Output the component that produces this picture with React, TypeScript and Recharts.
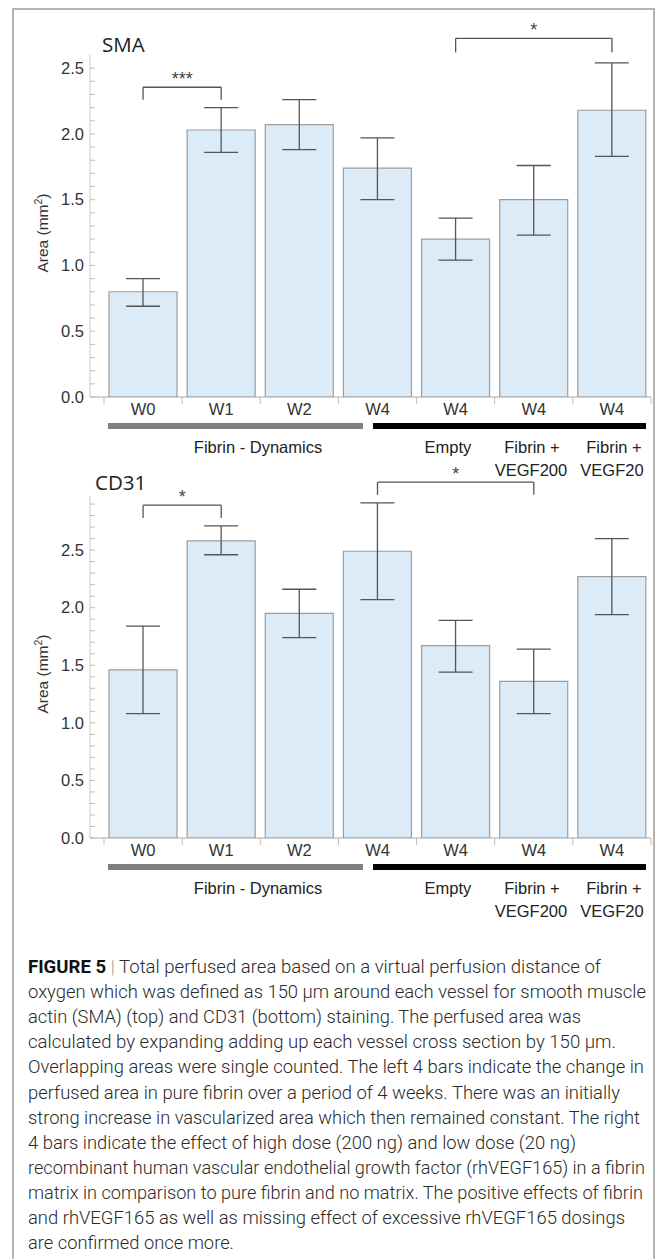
import React from "react";
import { Bar, BarChart, ErrorBar, ReferenceLine, XAxis, YAxis } from "recharts";

// bar order is the same in both panels
const barIds = ["w0", "w1", "w2", "w4", "empty", "vegf200", "vegf20"];
const barLabels = ["W0", "W1", "W2", "W4", "W4", "W4", "W4"];

const smaMean = [0.8, 2.03, 2.07, 1.74, 1.2, 1.5, 2.18];
const smaLow = [0.69, 1.86, 1.88, 1.5, 1.04, 1.23, 1.83];
const smaHigh = [0.9, 2.2, 2.26, 1.97, 1.36, 1.76, 2.54];

const cd31Mean = [1.46, 2.58, 1.95, 2.49, 1.67, 1.36, 2.27];
const cd31Low = [1.08, 2.46, 1.74, 2.07, 1.44, 1.08, 1.94];
const cd31High = [1.84, 2.71, 2.16, 2.91, 1.89, 1.64, 2.6];

const smaTicks = [
  0, 0.1, 0.2, 0.3, 0.4, 0.5, 0.6, 0.7, 0.8, 0.9, 1.0, 1.1, 1.2, 1.3, 1.4,
  1.5, 1.6, 1.7, 1.8, 1.9, 2.0, 2.1, 2.2, 2.3, 2.4, 2.5,
];
const cd31Ticks = [
  0, 0.1, 0.2, 0.3, 0.4, 0.5, 0.6, 0.7, 0.8, 0.9, 1.0, 1.1, 1.2, 1.3, 1.4,
  1.5, 1.6, 1.7, 1.8, 1.9, 2.0, 2.1, 2.2, 2.3, 2.4, 2.5, 2.6, 2.7, 2.8, 2.9,
];

// significance brackets (y in data units)
const smaBrackets = [
  { from: "w0", to: "w1", top: 2.355, leg: 2.26, mark: "***" },
  { from: "empty", to: "vegf20", top: 2.727, leg: 2.62, mark: "*" },
];
const cd31Brackets = [
  { from: "w0", to: "w1", top: 2.89, leg: 2.78, mark: "*" },
  { from: "w4", to: "vegf200", top: 3.09, leg: 2.98, mark: "*" },
];

const groupLabels = [
  { text: "Fibrin - Dynamics", x: 258, line: 0 },
  { text: "Empty", x: 448, line: 0 },
  { text: "Fibrin +", x: 532, line: 0 },
  { text: "VEGF200", x: 531, line: 1 },
  { text: "Fibrin +", x: 614, line: 0 },
  { text: "VEGF20", x: 612, line: 1 },
];

const captionLines = [
  "Total perfused area based on a virtual perfusion distance of",
  "oxygen which was defined as 150 μm around each vessel for smooth muscle",
  "actin (SMA) (top) and CD31 (bottom) staining. The perfused area was",
  "calculated by expanding adding up each vessel cross section by 150 μm.",
  "Overlapping areas were single counted. The left 4 bars indicate the change in",
  "perfused area in pure fibrin over a period of 4 weeks. There was an initially",
  "strong increase in vascularized area which then remained constant. The right",
  "4 bars indicate the effect of high dose (200 ng) and low dose (20 ng)",
  "recombinant human vascular endothelial growth factor (rhVEGF165) in a fibrin",
  "matrix in comparison to pure fibrin and no matrix. The positive effects of fibrin",
  "and rhVEGF165 as well as missing effect of excessive rhVEGF165 dosings",
  "are confirmed once more.",
];
const captionWidths = [573, 618, 553, 588, 616, 592, 612, 548, 617, 615, 597, 206];

const FONT = "'Liberation Sans', Arial, sans-serif";

function buildRows(mean: number[], low: number[], high: number[]) {
  return barIds.map((id, i) => ({
    id,
    mean: mean[i],
    err: [mean[i] - low[i], high[i] - mean[i]],
  }));
}

const smaRows = buildRows(smaMean, smaLow, smaHigh);
const cd31Rows = buildRows(cd31Mean, cd31Low, cd31High);

function AreaTick(props: any) {
  const { x, y, payload } = props;
  const v = payload.value;
  const major = Math.abs(v * 2 - Math.round(v * 2)) < 1e-6;
  return (
    <g>
      <line x1={x} x2={x + 5} y1={y} y2={y} stroke="#bdbdbd" strokeWidth={1} />
      {major && (
        <text
          x={x - 6}
          y={y}
          dy={5.8}
          textAnchor="end"
          fontSize={16.5}
          fontFamily={FONT}
          fill="#333"
        >
          {v.toFixed(1)}
        </text>
      )}
    </g>
  );
}

function WeekTick(props: any) {
  const { x, y, payload, index } = props;
  const half = payload && payload.offset ? payload.offset : 39;
  const label = barLabels[barIds.indexOf(payload.value)];
  return (
    <g>
      <line x1={x - half} x2={x - half} y1={y} y2={y + 7} stroke="#bdbdbd" />
      {index === barIds.length - 1 && (
        <line x1={x + half} x2={x + half} y1={y} y2={y + 7} stroke="#bdbdbd" />
      )}
      <text
        x={x}
        y={y + 18}
        textAnchor="middle"
        fontSize={16.5}
        fontFamily={FONT}
        fill="#333"
      >
        {label}
      </text>
    </g>
  );
}

type Bracket = { from: string; to: string; top: number; leg: number; mark: string };

function Panel({
  rows,
  ticks,
  yMax,
  brackets,
  top,
}: {
  rows: any[];
  ticks: number[];
  yMax: number;
  brackets: Bracket[];
  top: number;
}) {
  return (
    <div style={{ position: "absolute", left: 0, top, width: 665, height: 428 }}>
      <BarChart
        width={665}
        height={428}
        data={rows}
        margin={{ top: 56, right: 14, bottom: 0, left: 30 }}
        style={{ overflow: "visible" }}
      >
        <XAxis
          dataKey="id"
          interval={0}
          height={30}
          padding={{ left: 14, right: 0 }}
          tickLine={false}
          tickSize={0}
          tickMargin={0}
          axisLine={{ stroke: "#a8a8a8" }}
          tick={<WeekTick />}
        />
        <YAxis
          type="number"
          domain={[0, yMax]}
          allowDataOverflow
          ticks={ticks}
          interval={0}
          width={60}
          tickLine={false}
          tickSize={0}
          tickMargin={0}
          axisLine={{ stroke: "#c8c8c8" }}
          tick={<AreaTick />}
        />
        <Bar
          dataKey="mean"
          fill="#dcebf8"
          stroke="#9d9d9d"
          strokeWidth={1.2}
          barSize={68}
          isAnimationActive={false}
        >
          <ErrorBar
            dataKey="err"
            width={17}
            stroke="#555"
            strokeWidth={1.3}
            isAnimationActive={false}
          />
        </Bar>
        {brackets.map((b, i) => (
          <React.Fragment key={i}>
            <ReferenceLine
              ifOverflow="visible"
              stroke="#555"
              strokeWidth={1.3}
              segment={[
                { x: b.from, y: b.top },
                { x: b.to, y: b.top },
              ]}
              label={{
                value: b.mark,
                position: "top",
                offset: 2,
                fontSize: 18,
                fill: "#444",
                fontFamily: FONT,
              }}
            />
            <ReferenceLine
              ifOverflow="visible"
              stroke="#555"
              strokeWidth={1.3}
              segment={[
                { x: b.from, y: b.leg },
                { x: b.from, y: b.top },
              ]}
            />
            <ReferenceLine
              ifOverflow="visible"
              stroke="#555"
              strokeWidth={1.3}
              segment={[
                { x: b.to, y: b.leg },
                { x: b.to, y: b.top },
              ]}
            />
          </React.Fragment>
        ))}
      </BarChart>
    </div>
  );
}

function Decorations() {
  const blocks = [
    { title: "SMA", titleY: 52, axisMid: 233, stripeY: 423, labelY: 453 },
    { title: "CD31", titleY: 490, axisMid: 674, stripeY: 864, labelY: 894 },
  ];
  return (
    <svg
      width={665}
      height={1259}
      style={{ position: "absolute", left: 0, top: 0, pointerEvents: "none" }}
    >
      <rect x={13} y={9} width={641} height={1300} fill="none" stroke="#b3b3b3" strokeWidth={2} />
      {blocks.map((b) => (
        <g key={b.title}>
          <text
            x={b.title === "SMA" ? 102 : 95}
            y={b.titleY}
            fontSize={20.5}
            fontFamily="'Open Sans', sans-serif"
            fill="#222"
          >
            {b.title}
          </text>
          <text
            x={48}
            y={b.axisMid}
            transform={`rotate(-90, 48, ${b.axisMid})`}
            textAnchor="middle"
            fontSize={15.5}
            fontFamily={FONT}
            fill="#333"
          >
            Area (mm
            <tspan fontSize={10.5} dy={-6}>
              2
            </tspan>
            <tspan dy={6}>)</tspan>
          </text>
          <rect x={108} y={b.stripeY} width={255} height={6} fill="#808080" />
          <rect x={373} y={b.stripeY} width={273} height={6} fill="#000" />
          {groupLabels.map((g, i) => (
            <text
              key={i}
              x={g.x}
              y={b.labelY + g.line * 23}
              textAnchor="middle"
              fontSize={16.5}
              fontFamily={FONT}
              fill="#222"
            >
              {g.text}
            </text>
          ))}
        </g>
      ))}
      {captionLines.map((line, i) => (
        <text
          key={i}
          x={28}
          y={973 + i * 25.1}
          fontSize={18}
          fontFamily="Roboto, 'Liberation Sans', sans-serif"
          fontWeight={300}
          fill="#2a2a2a"
          textLength={captionWidths[i]}
          lengthAdjust="spacingAndGlyphs"
        >
          {i === 0 && (
            <tspan fontWeight={700} fill="#111">
              FIGURE 5{" "}
            </tspan>
          )}
          {i === 0 && <tspan fill="#999">| </tspan>}
          {line}
        </text>
      ))}
    </svg>
  );
}

export default function App() {
  return (
    <div
      style={{
        position: "absolute",
        left: 0,
        top: 0,
        width: 665,
        height: 1259,
        background: "#fff",
        overflow: "hidden",
      }}
    >
      <Panel rows={smaRows} ticks={smaTicks} yMax={2.6} brackets={smaBrackets} top={-1} />
      <Panel rows={cd31Rows} ticks={cd31Ticks} yMax={2.97} brackets={cd31Brackets} top={440} />
      <Decorations />
    </div>
  );
}
